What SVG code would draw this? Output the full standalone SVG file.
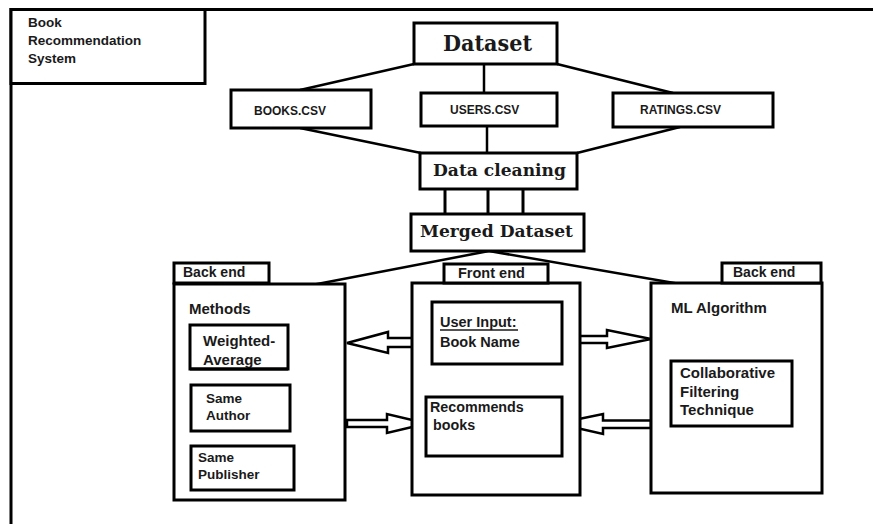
<svg xmlns="http://www.w3.org/2000/svg" width="873" height="524" viewBox="0 0 873 524">
<style>
.box{fill:#fff;stroke:#000;stroke-width:3}
.ln{stroke:#000;stroke-width:2.5;fill:none}
.arr{fill:#fff;stroke:#000;stroke-width:2.5;stroke-linejoin:miter}
.s{font-family:"Liberation Sans",Arial,sans-serif;font-weight:bold;fill:#1a1a1a}
.sf{font-family:"DejaVu Serif","Liberation Serif",serif;font-weight:bold;fill:#1a1a1a}
</style>
<rect width="873" height="524" fill="#fff"/>
<g id="frame">
<path class="ln" d="M11,526 V9.5 H875" style="stroke-width:3"/>
</g>
<g id="title">
<rect class="box" x="11" y="9.5" width="194" height="74"/>
<text class="s" font-size="13.5" x="28" y="27">Book</text>
<text class="s" font-size="13.5" x="28" y="45">Recommendation</text>
<text class="s" font-size="13.5" x="28" y="63">System</text>
</g>
<g id="connectors">
<line class="ln" x1="414" y1="64" x2="300" y2="90"/>
<line class="ln" x1="484" y1="64" x2="484" y2="93"/>
<line class="ln" x1="557" y1="64" x2="673" y2="93"/>
<line class="ln" x1="300" y1="128" x2="421" y2="153"/>
<line class="ln" x1="487" y1="126" x2="487" y2="153"/>
<line class="ln" x1="680" y1="127" x2="577" y2="153"/>
<line class="ln" x1="445" y1="189" x2="445" y2="214" style="stroke-width:3"/>
<line class="ln" x1="488" y1="189" x2="488" y2="214" style="stroke-width:3"/>
<line class="ln" x1="523" y1="189" x2="523" y2="214" style="stroke-width:3"/>
<line class="ln" x1="489" y1="251" x2="312" y2="285"/>
<line class="ln" x1="489" y1="251" x2="680" y2="284"/>
<polygon class="arr" points="431,338 388,338 388,332 347,343 388,353 388,347 431,347"/>
<polygon class="arr" points="347,420 387,420 387,414 427,423.5 387,433 387,427 347,427"/>
<polygon class="arr" points="562,336 607,336 607,330 651,339 607,348 607,343 562,343"/>
<polygon class="arr" points="651,420.5 603,420.5 603,414 557,423.5 603,434 603,428 651,428"/>
</g>
<g id="dataset">
<rect class="box" x="414" y="23" width="143" height="41"/>
<text class="sf" font-size="22" x="443" y="51" textLength="89" lengthAdjust="spacingAndGlyphs">Dataset</text>
</g>
<g id="books">
<rect class="box" x="231" y="90" width="140" height="38"/>
<text class="s" font-size="12" x="254" y="115">BOOKS.CSV</text>
</g>
<g id="users">
<rect class="box" x="421" y="93" width="136" height="33"/>
<text class="s" font-size="12" x="450" y="114">USERS.CSV</text>
</g>
<g id="ratings">
<rect class="box" x="613" y="93" width="160" height="34"/>
<text class="s" font-size="12" x="640" y="114">RATINGS.CSV</text>
</g>
<g id="datacleaning">
<rect class="box" x="420" y="153" width="157" height="36"/>
<text class="sf" font-size="17" x="433" y="176" textLength="133" lengthAdjust="spacingAndGlyphs">Data cleaning</text>
</g>
<g id="merged">
<rect class="box" x="411" y="214" width="173" height="37"/>
<text class="sf" font-size="17" x="420" y="237" textLength="153" lengthAdjust="spacingAndGlyphs">Merged Dataset</text>
</g>
<g id="backend-left">
<rect class="box" x="174" y="284" width="171" height="216"/>
<rect class="box" x="174" y="263" width="95" height="20"/>
<text class="s" font-size="14" x="183" y="277">Back end</text>
<text class="s" font-size="15" x="189" y="314">Methods</text>
<g id="weighted">
<rect class="box" x="190" y="325" width="98" height="44"/>
<text class="s" font-size="15" x="203" y="346">Weighted-</text>
<text class="s" font-size="15" x="203" y="365">Average</text>
<rect x="190" y="367.5" width="98" height="3" fill="#000"/>
</g>
<g id="sameauthor">
<rect class="box" x="191" y="385" width="99" height="46"/>
<text class="s" font-size="13.5" x="206" y="403">Same</text>
<text class="s" font-size="13.5" x="206" y="420">Author</text>
</g>
<g id="samepublisher">
<rect class="box" x="191" y="446" width="103" height="44"/>
<text class="s" font-size="13.5" x="198" y="462">Same</text>
<text class="s" font-size="13.5" x="198" y="479">Publisher</text>
</g>
</g>
<g id="frontend">
<rect class="box" x="412" y="283" width="168" height="212"/>
<rect class="box" x="444" y="264" width="104" height="19"/>
<text class="s" font-size="14.5" x="458" y="278">Front end</text>
<g id="userinput">
<rect class="box" x="432" y="302" width="130" height="62"/>
<text class="s" font-size="14.5" x="440" y="327">User Input:</text>
<line x1="440" y1="330" x2="518" y2="330" stroke="#1a1a1a" stroke-width="1.5"/>
<text class="s" font-size="14.5" x="440" y="347">Book Name</text>
</g>
<g id="recommends">
<rect class="box" x="426" y="397" width="136" height="59"/>
<text class="s" font-size="14.3" x="430" y="412">Recommends</text>
<text class="s" font-size="14.3" x="433" y="430">books</text>
</g>
</g>
<g id="backend-right">
<rect class="box" x="651" y="283" width="171" height="210"/>
<rect class="box" x="722" y="263" width="99" height="20"/>
<text class="s" font-size="14" x="733" y="277">Back end</text>
<text class="s" font-size="15" x="671" y="313">ML Algorithm</text>
<g id="collab">
<rect class="box" x="671" y="361" width="121" height="65"/>
<text class="s" font-size="15" x="680" y="378">Collaborative</text>
<text class="s" font-size="15" x="680" y="397">Filtering</text>
<text class="s" font-size="15" x="680" y="415">Technique</text>
</g>
</g>
</svg>
